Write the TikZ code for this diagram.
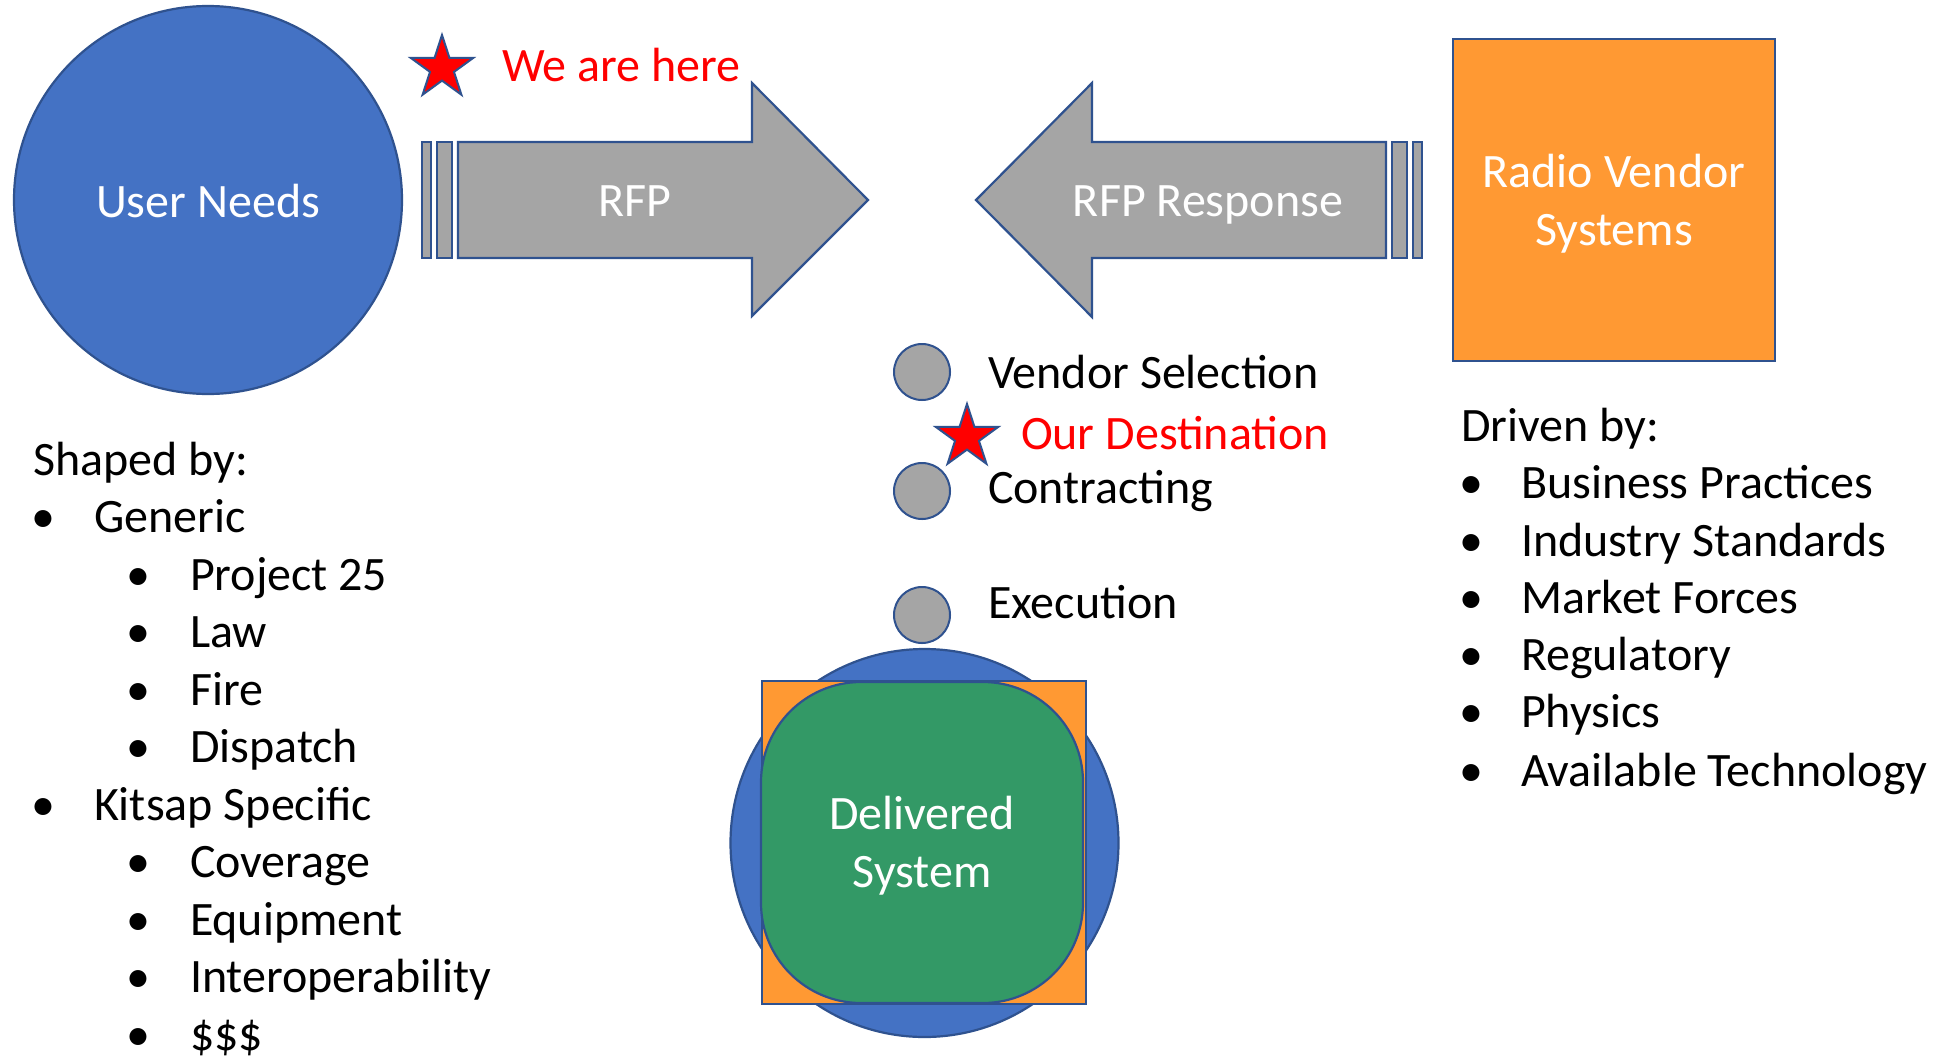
\documentclass[tikz,border=0pt]{standalone}
\usepackage{fontspec}
\setmainfont{Carlito}
\usetikzlibrary{shapes.geometric}
\definecolor{ublue}{HTML}{4472C4}
\definecolor{edgeblue}{HTML}{2F528F}
\definecolor{agray}{HTML}{A5A5A5}
\definecolor{vorange}{HTML}{FF9933}
\definecolor{dgreen}{HTML}{339966}
\definecolor{mred}{HTML}{FF0000}
\begin{document}
\begin{tikzpicture}[x=1pt,y=-1pt,
  every node/.style={font=\fontsize{48}{58}\selectfont, inner sep=0pt, outer sep=0pt},
  shapeline/.style={draw=edgeblue, line width=2.2pt},
  wlabel/.style={text=white, anchor=base},
  btext/.style={text=black, anchor=base west},
  rtext/.style={text=mred, anchor=base west},
  bul/.style={text=black, anchor=base},
  redstar/.style={star, star points=5, star point ratio=2.618, minimum size=66pt,
    fill=mred, draw=edgeblue, line width=2pt},
  stagedot/.style={circle, minimum size=56pt, fill=agray, draw=edgeblue, line width=2pt}
]
\useasboundingbox[fill=white] (0,0) rectangle (1953,1058);

% User Needs
\node[circle, minimum size=388pt, fill=ublue, shapeline] (user) at (208,200) {};
\node[wlabel] (userT) at (208,217) {User Needs};

% RFP arrow
\draw[shapeline, fill=agray] (422,142) rectangle (431,258);
\draw[shapeline, fill=agray] (437,142) rectangle (452,258);
\draw[shapeline, fill=agray] (458,142) -- (752,142) -- (752,83) -- (868,200)
  -- (752,316) -- (752,258) -- (458,258) -- cycle;
\node[wlabel] (rfpT) at (635,216) {RFP};

% We are here
\node[redstar] (star1) at (442,68) {};
\node[rtext] (here) at (502,81) {We are here};

% RFP Response arrow
\draw[shapeline, fill=agray] (1392,142) rectangle (1407,258);
\draw[shapeline, fill=agray] (1413,142) rectangle (1422,258);
\draw[shapeline, fill=agray] (976,200) -- (1092,83) -- (1092,142) -- (1386,142)
  -- (1386,258) -- (1092,258) -- (1092,317) -- cycle;
\node[wlabel] (respT) at (1208,216) {RFP Response};

% Radio Vendor Systems
\node[rectangle, minimum width=322pt, minimum height=322pt, fill=vorange, shapeline] (vendor) at (1614,200) {};
\node[wlabel] (vendT1) at (1614,187) {Radio Vendor};
\node[wlabel] (vendT2) at (1614,245) {Systems};

% Stages
\node[stagedot] (s1) at (922,372) {};
\node[stagedot] (s2) at (922,491) {};
\node[stagedot] (s3) at (922,615) {};
\node[btext] (s1T) at (988,388) {Vendor Selection};
\node[btext] (s2T) at (988,503) {Contracting};
\node[btext] (s3T) at (988,618) {Execution};
\node[redstar] (star2) at (967,437) {};
\node[rtext] (dest) at (1021,449) {Our Destination};

% Delivered System
\node[circle, minimum size=388pt, fill=ublue, shapeline] (dcirc) at (924.5,843) {};
\node[rectangle, minimum width=324pt, minimum height=323pt, fill=vorange, shapeline] (dsq) at (924,842.5) {};
\node[rectangle, rounded corners=100pt, minimum width=322pt, minimum height=321pt, fill=dgreen, shapeline] (drr) at (922,842.5) {};
\node[wlabel] (dT1) at (922,829) {Delivered};
\node[wlabel] (dT2) at (922,887) {System};

% Left list
\node[btext] (L0) at (33,475) {Shaped by:};
\node[bul] (b1) at (43,532) {•};    \node[btext] (L1) at (94,532) {Generic};
\node[bul] (b2) at (138,590) {•};   \node[btext] (L2) at (190,590) {Project 25};
\node[bul] (b3) at (138,647.5) {•}; \node[btext] (L3) at (190,647.5) {Law};
\node[bul] (b4) at (138,705) {•};   \node[btext] (L4) at (190,705) {Fire};
\node[bul] (b5) at (138,762.5) {•}; \node[btext] (L5) at (190,762.5) {Dispatch};
\node[bul] (b6) at (43,820) {•};    \node[btext] (L6) at (94,820) {Kitsap Specific};
\node[bul] (b7) at (138,877.5) {•}; \node[btext] (L7) at (190,877.5) {Coverage};
\node[bul] (b8) at (138,935) {•};   \node[btext] (L8) at (190,935) {Equipment};
\node[bul] (b9) at (138,992.5) {•}; \node[btext] (L9) at (190,992.5) {Interoperability};
\node[bul] (b10) at (138,1050) {•}; \node[btext] (L10) at (190,1050) {\$\$\$};

% Right list
\node[btext] (R0) at (1461,441) {Driven by:};
\node[bul] (c1) at (1471,498) {•}; \node[btext] (R1) at (1521,498) {Business Practices};
\node[bul] (c2) at (1471,556) {•}; \node[btext] (R2) at (1521,556) {Industry Standards};
\node[bul] (c3) at (1471,613) {•}; \node[btext] (R3) at (1521,613) {Market Forces};
\node[bul] (c4) at (1471,670) {•}; \node[btext] (R4) at (1521,670) {Regulatory};
\node[bul] (c5) at (1471,727) {•}; \node[btext] (R5) at (1521,727) {Physics};
\node[bul] (c6) at (1471,786) {•}; \node[btext] (R6) at (1521,786) {Available Technology};
\end{tikzpicture}
\end{document}
